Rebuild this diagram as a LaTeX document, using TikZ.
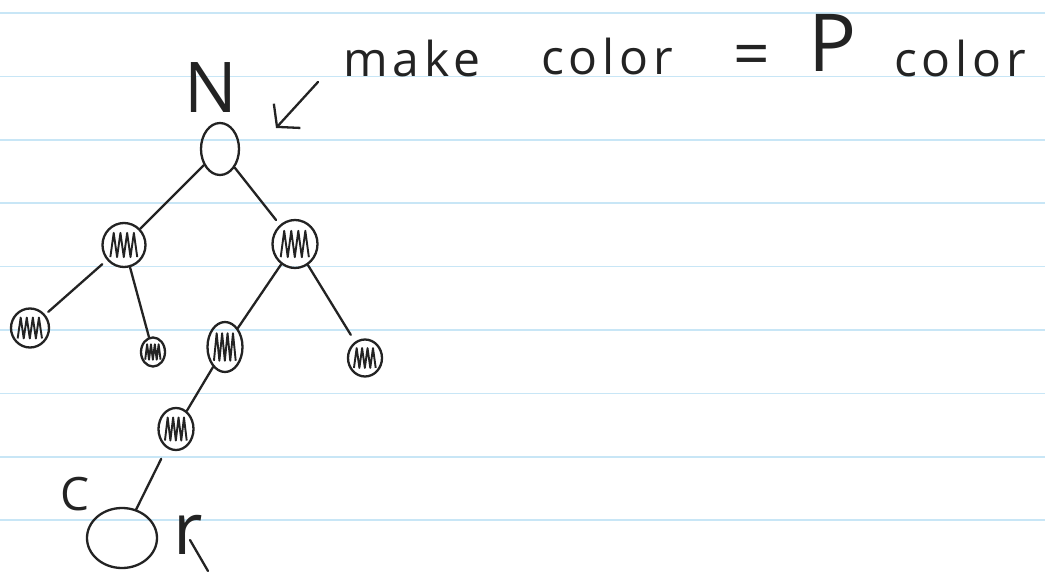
\documentclass[tikz,border=0pt]{standalone}
\usepackage{fontspec}
\newfontfamily\handfont[LetterSpace=10]{Open Sans}
\usetikzlibrary{shapes.geometric,arrows.meta}
\definecolor{ink}{RGB}{35,35,35}
\definecolor{rulecol}{RGB}{200,230,246}
\tikzset{
  rule/.style={draw=rulecol, line width=1.6pt},
  vert/.style={ellipse, draw=ink, line width=2.3pt, inner sep=0pt},
  edge/.style={draw=ink, line width=2.3pt, line cap=round},
  hatchline/.style={draw=ink, line width=1.9pt, line join=round},
  hand/.style={text=ink, inner sep=0pt},
  pointer/.style={edge, -{Straight Barb[length=15pt,width=36pt]}}
}
\newcommand{\hatch}[3]{%
  \draw[hatchline] (#1.center) ++({-0.65*#2},{0.55*#3})
    \foreach \i in {1,...,4}{ -- ++({0.16*#2},{-1.1*#3}) -- ++({0.16*#2},{1.1*#3}) };
}
\begin{document}
\begin{tikzpicture}[x=1pt,y=-1pt]
  \useasboundingbox (0,0) rectangle (1045,572);
  \fill[white] (0,0) rectangle (1045,572);
  \foreach \ly in {0,...,8}
    \draw[rule] (0,{13+63.4*\ly}) -- (1045,{13+63.4*\ly});

  \node[vert, minimum width=38pt, minimum height=52pt] (root) at (220,149) {};
  \node[vert, minimum width=43pt, minimum height=44pt] (a) at (124,245) {};
  \node[vert, minimum width=45pt, minimum height=48pt] (b) at (295,244) {};
  \node[vert, minimum width=38pt, minimum height=39pt] (c) at (30,328) {};
  \node[vert, minimum width=24pt, minimum height=29pt] (d) at (153,352) {};
  \node[vert, minimum width=35pt, minimum height=50pt] (e) at (225,347) {};
  \node[vert, minimum width=34pt, minimum height=37pt] (f) at (365,358) {};
  \node[vert, minimum width=35pt, minimum height=42pt] (g) at (176,429) {};
  \node[vert, minimum width=70pt, minimum height=60pt] (cur) at (122,538) {};

  \hatch{a}{21}{22}
  \hatch{b}{22}{24}
  \hatch{c}{19}{19}
  \hatch{d}{12}{14}
  \hatch{e}{17}{25}
  \hatch{f}{17}{18}
  \hatch{g}{17}{21}

  \draw[edge] (root) -- (a);
  \draw[edge, shorten >=6pt] (root) -- (b);
  \draw[edge, shorten <=6pt, shorten >=4pt] (a) -- (c);
  \draw[edge] (a) -- (d);
  \draw[edge] (b) -- (e);
  \draw[edge, shorten >=8pt] (b) -- (f);
  \draw[edge] (e) -- (g);
  \draw[edge, shorten >=12pt] (cur) -- (g);

  \node[hand, font=\handfont\fontsize{70}{72}\selectfont] (nlabel) at (211,88) {N};
  \node[hand, anchor=base, font=\handfont\fontsize{48}{50}\selectfont] (make) at (412,77) {make};
  \node[hand, anchor=base, font=\handfont\fontsize{48}{50}\selectfont] (color) at (607,75) {color};
  \node[hand, font=\handfont\fontsize{64}{66}\selectfont] (eq) at (752,61) {=};
  \node[hand, anchor=base, font=\handfont\fontsize{80}{82}\selectfont] (pcol) at (833,72) {P};
  \node[hand, anchor=base, font=\handfont\fontsize{48}{50}\selectfont] (color2) at (960,77) {color};
  \node[hand, font=\handfont\fontsize{46}{48}\selectfont] (clabel) at (75,494) {C};
  \node[hand, anchor=base, font=\handfont\fontsize{72}{74}\selectfont] (rlabel) at (188,554) {r};

  \coordinate (tail) at (318,82);
  \coordinate (tip) at (276,128);
  \draw[pointer] (tail) -- (tip);
  \coordinate (s1) at (190,540);
  \coordinate (s2) at (208,571);
  \draw[edge] (s1) -- (s2);
\end{tikzpicture}
\end{document}
